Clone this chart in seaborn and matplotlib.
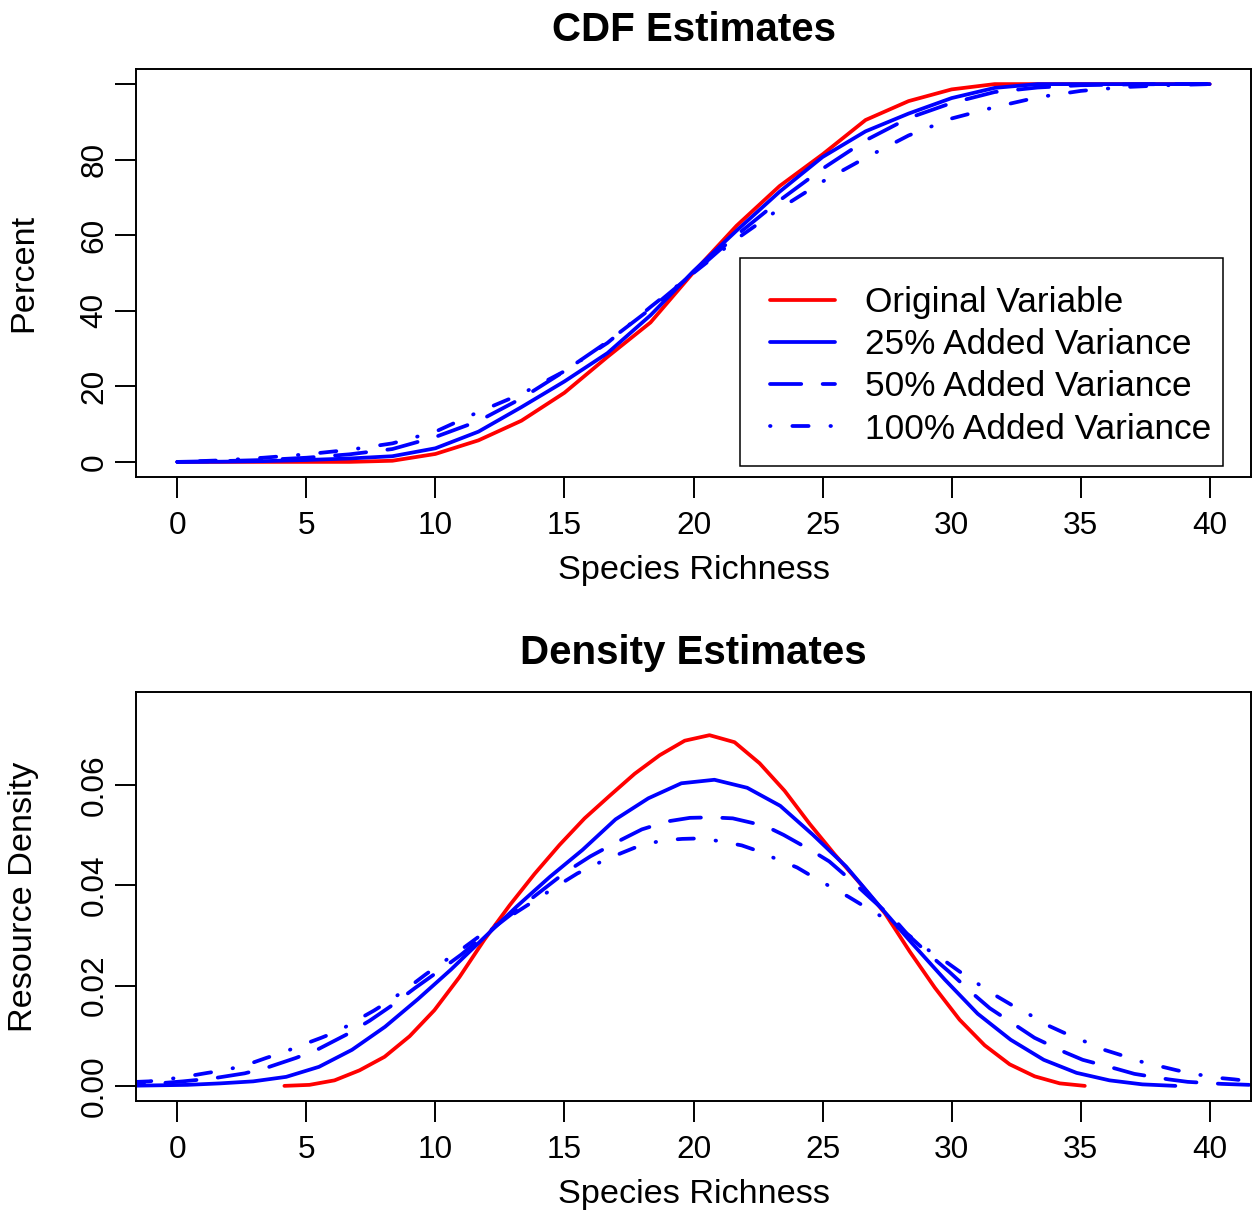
import matplotlib
matplotlib.use("Agg")
import matplotlib.pyplot as plt
from matplotlib.patches import Rectangle
import seaborn as sns

# ---------------- data ----------------
cdf_x = [0, 1.667, 3.333, 5, 6.667, 8.333, 10, 11.667, 13.333, 15, 16.667, 18.333,
         20, 21.667, 23.333, 25, 26.667, 28.333, 30, 31.667, 33.333, 35, 36.667, 38.333, 40]
cdf_orig = [0, 0, 0, 0, 0, 0.3, 2.1, 5.7, 10.9, 18.3, 27.8, 36.9, 50.2, 62.5, 73.0, 81.4,
            90.5, 95.5, 98.6, 100, 100, 100, 100, 100, 100]
cdf_25 = [0, 0.05, 0.2, 0.5, 0.9, 1.5, 3.6, 8.0, 14.5, 21.3, 28.8, 38.8, 50.5, 61.2, 71.5,
          80.7, 87.5, 92.2, 96.3, 99.0, 100, 100, 100, 100, 100]
cdf_50 = [0, 0.2, 0.5, 1.1, 2.0, 3.4, 6.6, 10.8, 16.8, 24.0, 31.8, 40.5, 50.0, 60.0, 69.2,
          77.6, 85.1, 91.0, 95.0, 97.9, 99.1, 99.7, 99.9, 100, 100]
cdf_100 = [0, 0.4, 1.1, 2.0, 3.2, 4.9, 8.0, 13.2, 18.0, 24.0, 31.5, 41.0, 50.0, 59.0, 67.0,
           74.2, 80.5, 86.4, 90.9, 93.9, 96.5, 98.2, 99.2, 99.7, 100]

dens_x_orig = [4.15, 5.12, 6.09, 7.06, 8.03, 9.00, 9.96, 10.93, 11.90, 12.87, 13.84, 14.81,
               15.78, 16.75, 17.72, 18.69, 19.66, 20.62, 21.59, 22.56, 23.53, 24.50, 25.47,
               26.44, 27.41, 28.38, 29.35, 30.31, 31.28, 32.25, 33.22, 34.19, 35.16]
dens_orig = [0.0000, 0.0002, 0.0011, 0.0031, 0.0058, 0.0099, 0.0151, 0.0217, 0.0292, 0.0360,
             0.0423, 0.0481, 0.0534, 0.0579, 0.0623, 0.0660, 0.0689, 0.0700, 0.0686, 0.0644,
             0.0589, 0.0523, 0.0462, 0.0405, 0.0345, 0.0268, 0.0196, 0.0132, 0.0081, 0.0043,
             0.0019, 0.0005, 0.0000]

dens_x_25 = [-2.16, -0.89, 0.39, 1.67, 2.94, 4.22, 5.49, 6.77, 8.05, 9.32, 10.60, 11.87,
             13.15, 14.43, 15.70, 16.98, 18.25, 19.53, 20.81, 22.08, 23.36, 24.63, 25.91,
             27.19, 28.46, 29.74, 31.01, 32.29, 33.57, 34.84, 36.12, 37.39, 38.67]
dens_25 = [0.0000, 0.0001, 0.0002, 0.0005, 0.0009, 0.0018, 0.0038, 0.0072, 0.0118, 0.0173,
           0.0232, 0.0295, 0.0358, 0.0417, 0.0471, 0.0532, 0.0574, 0.0604, 0.0611, 0.0595,
           0.0559, 0.0501, 0.0438, 0.0360, 0.0285, 0.0212, 0.0144, 0.0092, 0.0052, 0.0026,
           0.0011, 0.0003, 0.0000]

dens_x_50 = [-2.5, -1.59, -0.5, 0.22, 1.38, 2.61, 3.45, 4.61, 5.45, 6.54, 7.45, 8.3, 9.2,
             10.1, 11.0, 12.0, 13.0, 14.0, 15.0, 16.0, 17.0, 18.0, 19.0, 19.86, 20.69,
             21.52, 22.77, 23.49, 24.63, 25.26, 26.22, 26.85, 27.82, 28.30, 29.27, 29.9,
             30.87, 31.48, 32.45, 33.21, 34.39, 35.08, 36.39, 37.08, 38.4, 39.15, 40.46,
             41.55, 43.0]
dens_50 = [0.0002, 0.0004, 0.0006, 0.0009, 0.0015, 0.0025, 0.0036, 0.0056, 0.0073, 0.0102,
           0.0130, 0.0160, 0.0195, 0.0228, 0.0262, 0.0305, 0.0345, 0.0385, 0.0425, 0.0458,
           0.0486, 0.0512, 0.0528, 0.0535, 0.0536, 0.0534, 0.0519, 0.0501, 0.0468, 0.0448,
           0.0405, 0.0375, 0.0330, 0.0302, 0.0256, 0.0228, 0.0182, 0.0155, 0.0122, 0.0096,
           0.0067, 0.0052, 0.0034, 0.0024, 0.0013, 0.0008, 0.0004, 0.0002, 0.0001]

dens_x_100 = [-2.5, -1.1, -0.41, 0.38, 1.18, 1.8, 2.63, 3.46, 4.01, 4.8, 5.58, 6.3, 6.92,
              7.61, 8.23, 8.92, 9.61, 10.1, 11.0, 12.0, 13.0, 14.0, 14.59, 15.5, 16.6,
              17.7, 18.77, 19.57, 20.28, 21.07, 21.87, 22.49, 23.25, 24.01, 24.57, 25.29,
              26.02, 26.5, 27.22, 28.1, 29.13, 29.8, 30.37, 31.07, 31.75, 32.31, 33.03,
              33.76, 34.31, 35.1, 35.91, 36.53, 37.29, 38.09, 38.74, 39.5, 40.33, 40.95,
              41.6, 43.0]
dens_100 = [0.0006, 0.0009, 0.0013, 0.0019, 0.0026, 0.0031, 0.0041, 0.0056, 0.0065, 0.0081,
            0.0096, 0.0111, 0.0130, 0.0150, 0.0170, 0.0195, 0.0222, 0.0240, 0.0272, 0.0310,
            0.0342, 0.0375, 0.0395, 0.0424, 0.0452, 0.0475, 0.0490, 0.0493, 0.0494, 0.0488,
            0.0480, 0.0469, 0.0452, 0.0436, 0.0419, 0.0398, 0.0377, 0.0362, 0.0340, 0.0310,
            0.0270, 0.0247, 0.0226, 0.0202, 0.0179, 0.0162, 0.0142, 0.0120, 0.0107, 0.0090,
            0.0072, 0.0062, 0.0049, 0.0039, 0.0031, 0.0023, 0.0016, 0.0013, 0.0009, 0.0005]

series_labels = ["Original Variable", "25% Added Variance",
                 "50% Added Variance", "100% Added Variance"]
x_ticks = [0, 5, 10, 15, 20, 25, 30, 35, 40]
cdf_ticks = [0, 20, 40, 60, 80, 100]
cdf_ticklabels = ["0", "20", "40", "60", "80", ""]
dens_ticks = [0.00, 0.02, 0.04, 0.06]
dens_ticklabels = ["0.00", "0.02", "0.04", "0.06"]

# ---------------- style ----------------
sns.set_theme(style="white")
plt.rcParams["font.family"] = ["Liberation Sans", "DejaVu Sans"]
plt.rcParams["lines.scale_dashes"] = False
plt.rcParams["axes.edgecolor"] = "black"
plt.rcParams["axes.linewidth"] = 1.4
plt.rcParams["xtick.color"] = "black"
plt.rcParams["ytick.color"] = "black"
plt.rcParams["text.color"] = "black"
plt.rcParams["axes.labelcolor"] = "black"

LW = 2.7
RED = "#FF0000"
BLUE = "#0000FF"
styles = [
    (RED, "-"),
    (BLUE, "-"),
    (BLUE, (0, (22.5, 15.4))),
    (BLUE, (0, (0.4, 15.7, 11.7, 15.7))),
]
TICK_FS = 22.7
LAB_FS = 24.7
LEG_FS = 25.4
TITLE_FS = 29

W, H = 1257, 1218
fig = plt.figure(figsize=(W / 100, H / 100), dpi=100)
fig.patch.set_facecolor("white")
ax1 = fig.add_axes([136 / W, 1 - 477 / H, 1115 / W, 408 / H])
ax2 = fig.add_axes([136 / W, 1 - 1101 / H, 1115 / W, 409 / H])


def draw(ax, xs, ys, color, ls, label):
    sns.lineplot(x=xs, y=ys, ax=ax, color=color, linewidth=LW, sort=False,
                 estimator=None, label=label, legend=False)
    line = ax.lines[-1]
    line.set_linestyle(ls)
    line.set_dash_capstyle("round")
    line.set_solid_capstyle("round")
    line.set_solid_joinstyle("round")
    line.set_dash_joinstyle("round")
    return line


cdf_sets = [(cdf_x, cdf_orig), (cdf_x, cdf_25), (cdf_x, cdf_50), (cdf_x, cdf_100)]
dens_sets = [(dens_x_orig, dens_orig), (dens_x_25, dens_25),
             (dens_x_50, dens_50), (dens_x_100, dens_100)]

handles = []
for (xs, ys), (c, ls), lab in zip(cdf_sets, styles, series_labels):
    handles.append(draw(ax1, xs, ys, c, ls, lab))
for (xs, ys), (c, ls), lab in zip(dens_sets, styles, series_labels):
    draw(ax2, xs, ys, c, ls, lab)


def style_axes(ax, yticks, yticklabels, ylim, title, ylabel):
    ax.set_facecolor("white")
    ax.set_xlim(-1.6, 41.6)
    ax.set_ylim(*ylim)
    ax.set_xticks(x_ticks)
    ax.set_xticklabels([str(t) for t in x_ticks])
    ax.set_yticks(yticks)
    ax.set_yticklabels(yticklabels)
    for s in ax.spines.values():
        s.set_visible(True)
        s.set_color("black")
        s.set_linewidth(1.4)
    ax.tick_params(axis="both", which="major", direction="out", length=15, width=1.4,
                   colors="black", labelsize=TICK_FS, bottom=True, left=True,
                   top=False, right=False)
    ax.tick_params(axis="x", pad=9.5)
    ax.tick_params(axis="y", pad=4, labelrotation=90)
    for lab in ax.get_yticklabels():
        lab.set_va("center")
    ax.set_title(title, fontsize=TITLE_FS, fontweight="bold", pad=20)
    ax.set_xlabel("Species Richness", fontsize=LAB_FS)
    ax.set_ylabel(ylabel, fontsize=LAB_FS)
    ax.grid(False)


style_axes(ax1, cdf_ticks, cdf_ticklabels, (-4, 104), "CDF Estimates", "Percent")
style_axes(ax2, dens_ticks, dens_ticklabels, (-0.00302, 0.07862), "Density Estimates",
           "Resource Density")

ax1.xaxis.set_label_coords(0.5, (477 - 571) / 408)
ax2.xaxis.set_label_coords(0.5, (1101 - 1195) / 409)
for ax in (ax1, ax2):
    ax.xaxis.label.set_va("center")
    ax.yaxis.set_label_coords((24 - 136) / 1115, 0.5)
    ax.yaxis.label.set_va("center")
    ax.yaxis.label.set_ha("center")

# legend frame (R style: box with asymmetric padding)
frame = Rectangle(((740 - 136) / 1115, (477 - 466) / 408), 483 / 1115, 208 / 408,
                  transform=ax1.transAxes, facecolor="white", edgecolor="black",
                  linewidth=1.1, zorder=5)
ax1.add_patch(frame)
leg = ax1.legend(handles, series_labels, loc="upper left",
                 bbox_to_anchor=((770 - 136) / 1115, (477 - 286) / 408),
                 borderaxespad=0, frameon=False,
                 fontsize=LEG_FS, handlelength=1.85, handletextpad=0.85,
                 labelspacing=0.26, borderpad=0.0)
leg.set_zorder(6)

fig.savefig("out.png", dpi=100, facecolor="white")
